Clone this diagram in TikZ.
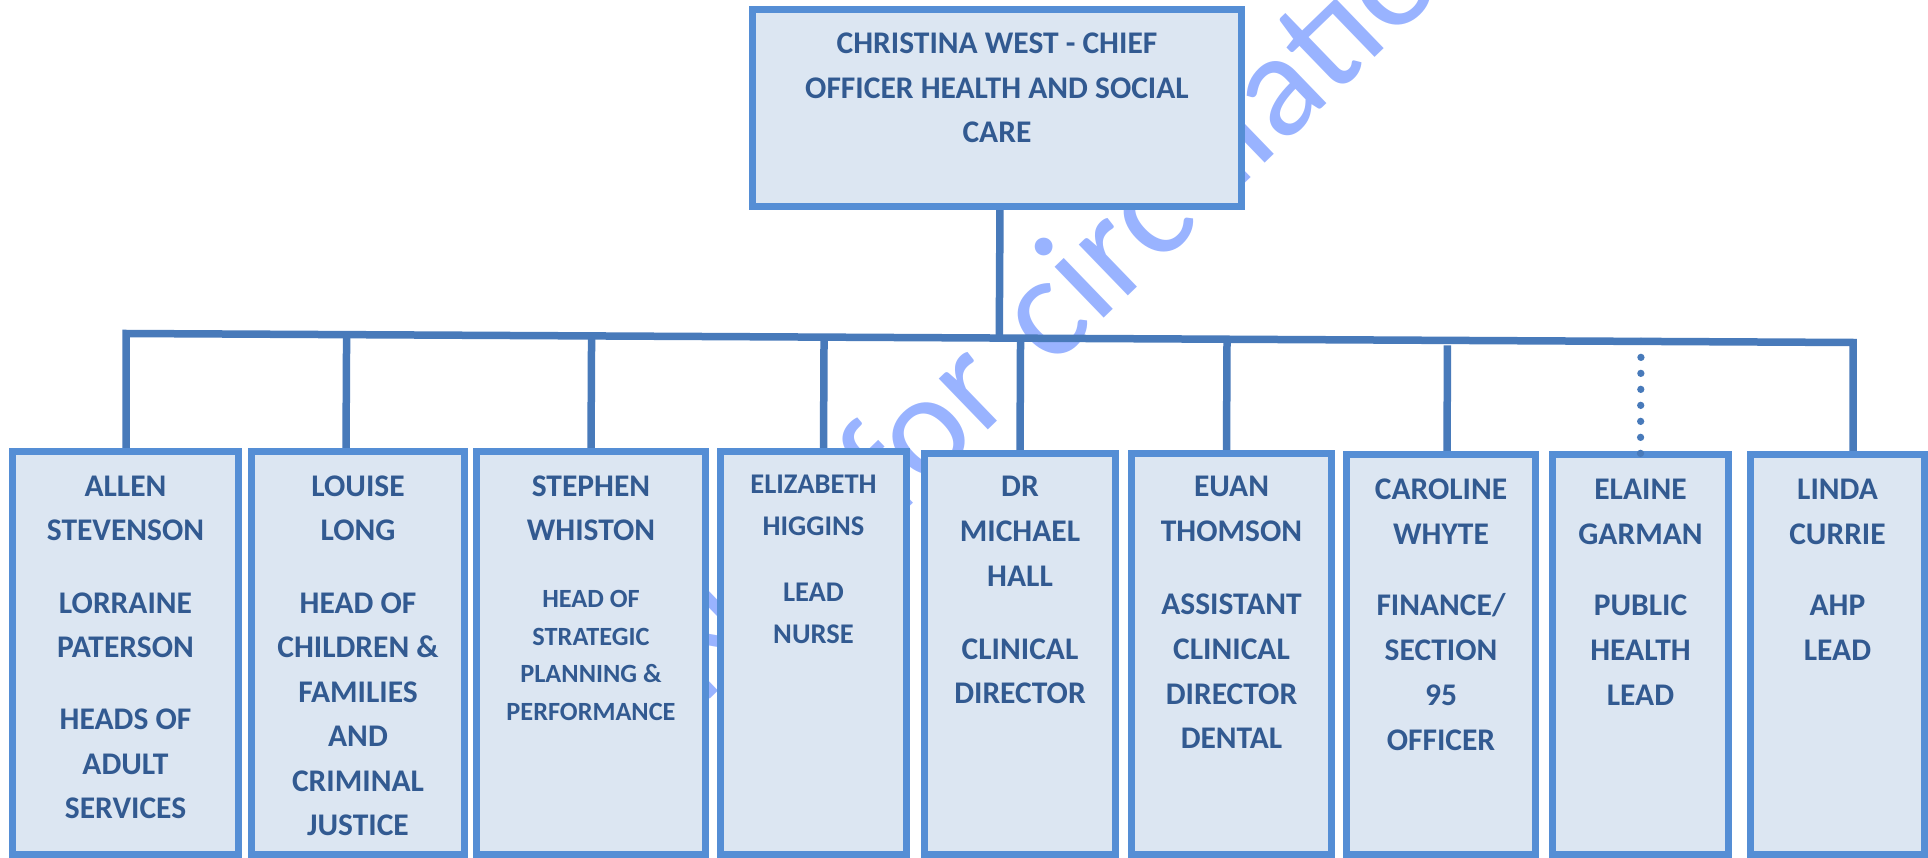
\documentclass[tikz,border=0pt]{standalone}
\usepackage{fontspec}
\setmainfont{Carlito}
\usetikzlibrary{calc,backgrounds}
\definecolor{boxborder}{RGB}{85,142,213}
\definecolor{boxfill}{RGB}{220,230,242}
\definecolor{connline}{RGB}{72,122,186}
\definecolor{txtblue}{RGB}{50,90,145}
\definecolor{wmark}{RGB}{153,179,255}
\begin{document}
\begin{tikzpicture}[x=1pt,y=-1pt,
  orgbox/.style={draw=boxborder, fill=boxfill, line width=7pt, inner sep=0pt, outer sep=0pt},
  conn/.style={draw=connline, line width=7.5pt},
  dotconn/.style={draw=connline, line width=7.3pt, line cap=round, dash pattern=on 0pt off 16pt},
  lbl/.style={anchor=base, inner sep=0pt, text=txtblue, font=\bfseries\fontsize{31.5}{37}\selectfont},
  lblsmall/.style={lbl, font=\bfseries\fontsize{26.3}{31}\selectfont},
  lblmid/.style={lbl, font=\bfseries\fontsize{28.5}{34}\selectfont},
  wm/.style={text=wmark, font=\fontsize{148}{160}\selectfont, inner sep=0pt, rotate=44}]
\useasboundingbox (0,0) rectangle (1928,858);
\clip (0,0) rectangle (1928,858);

% boxes
\node[orgbox, minimum width=489pt, minimum height=197pt] (top) at (997,108) {};
\node[orgbox, minimum width=226pt, minimum height=403pt] (b1) at (125.5,653) {};
\node[orgbox, minimum width=213pt, minimum height=403pt] (b2) at (358,653) {};
\node[orgbox, minimum width=229pt, minimum height=403pt] (b3) at (591,653) {};
\node[orgbox, minimum width=186pt, minimum height=403pt] (b4) at (813.5,653) {};
\node[orgbox, minimum width=191pt, minimum height=401pt] (b5) at (1020,654) {};
\node[orgbox, minimum width=200pt, minimum height=401.5pt] (b6) at (1231.5,653.75) {};
\node[orgbox, minimum width=189pt, minimum height=400.3pt] (b7) at (1441,654.35) {};
\node[orgbox, minimum width=176pt, minimum height=400pt] (b8) at (1640.5,654.5) {};
\node[orgbox, minimum width=174pt, minimum height=400pt] (b9) at (1837.5,654.5) {};

\coordinate (barL) at (126,333.5);
\coordinate (barR) at (1853,342.5);

\begin{scope}[on background layer]
  \node[wm] (wmk) at (1068,283) {Not\hspace{0.3em}for\hspace{0.31em}circulation};
  \draw[conn] ([xshift=3pt]top.south) -- ($(barL)!([xshift=3pt]top.south)!(barR)$);
  \draw[conn] (b1.north -| barL) -- (barL) -- (barR) -- (b9.north -| barR);
  \draw[conn] ([xshift=-12pt]b2.north) -- ($(barL)!([xshift=-12pt]b2.north)!(barR)$);
  \draw[conn, shorten >=3pt] (b3.north) -- ($(barL)!(b3.north)!(barR)$);
  \draw[conn] ([xshift=10pt]b4.north) -- ($(barL)!([xshift=10pt]b4.north)!(barR)$);
  \draw[conn] (b5.north) -- ($(barL)!(b5.north)!(barR)$);
  \draw[conn, shorten >=3pt] ([xshift=-5pt]b6.north) -- ($(barL)!([xshift=-5pt]b6.north)!(barR)$);
  \draw[conn, shorten >=5pt] ([xshift=6pt]b7.north) -- ($(barL)!([xshift=6pt]b7.north)!(barR)$);
\end{scope}

\draw[dotconn] ($(barL)!(b8.north)!(barR)$) -- (b8.north);

% texts
\foreach \yy/\tx [count=\i] in {54/CHRISTINA WEST - CHIEF, 98.5/OFFICER HEALTH AND SOCIAL, 143/CARE}
  \node[lbl] (t0-\i) at (997,\yy) {\tx};
\foreach \yy/\tx [count=\i] in {496/ALLEN, 540.5/STEVENSON, 613/LORRAINE, 657.5/PATERSON, 729.5/HEADS OF, 774/ADULT, 818.5/SERVICES}
  \node[lbl] (t1-\i) at (125.5,\yy) {\tx};
\foreach \yy/\tx [count=\i] in {496/LOUISE, 540.5/LONG, 613/HEAD OF, 657.5/CHILDREN \&, 702/FAMILIES, 746.5/AND, 791/CRIMINAL, 835.5/JUSTICE}
  \node[lbl] (t2-\i) at (358,\yy) {\tx};
\foreach \yy/\tx [count=\i] in {496/STEPHEN, 540.5/WHISTON}
  \node[lbl] (t3a-\i) at (591,\yy) {\tx};
\foreach \yy/\tx [count=\i] in {607.5/HEAD OF, 645/STRATEGIC, 682.5/PLANNING \&, 720/PERFORMANCE}
  \node[lblsmall] (t3b-\i) at (591,\yy) {\tx};
\foreach \yy/\tx [count=\i] in {493.3/ELIZABETH, 535/HIGGINS, 601.7/LEAD, 643.3/NURSE}
  \node[lblmid] (t4-\i) at (813.5,\yy) {\tx};
\foreach \yy/\tx [count=\i] in {496.7/DR, 541.7/MICHAEL, 586.7/HALL, 659/CLINICAL, 703.5/DIRECTOR}
  \node[lbl] (t5-\i) at (1020,\yy) {\tx};
\foreach \yy/\tx [count=\i] in {496.7/EUAN, 541.7/THOMSON, 614/ASSISTANT, 659/CLINICAL, 704/DIRECTOR, 748.3/DENTAL}
  \node[lbl] (t6-\i) at (1231.5,\yy) {\tx};
\foreach \yy/\tx [count=\i] in {499.3/CAROLINE, 544/WHYTE, 615/{FINANCE/}, 660/SECTION, 705/95, 750/OFFICER}
  \node[lbl] (t7-\i) at (1441,\yy) {\tx};
\foreach \yy/\tx [count=\i] in {499.3/ELAINE, 544/GARMAN, 615/PUBLIC, 660/HEALTH, 705/LEAD}
  \node[lbl] (t8-\i) at (1640.5,\yy) {\tx};
\foreach \yy/\tx [count=\i] in {499.3/LINDA, 544/CURRIE, 615/AHP, 660/LEAD}
  \node[lbl] (t9-\i) at (1837.5,\yy) {\tx};
\end{tikzpicture}
\end{document}
